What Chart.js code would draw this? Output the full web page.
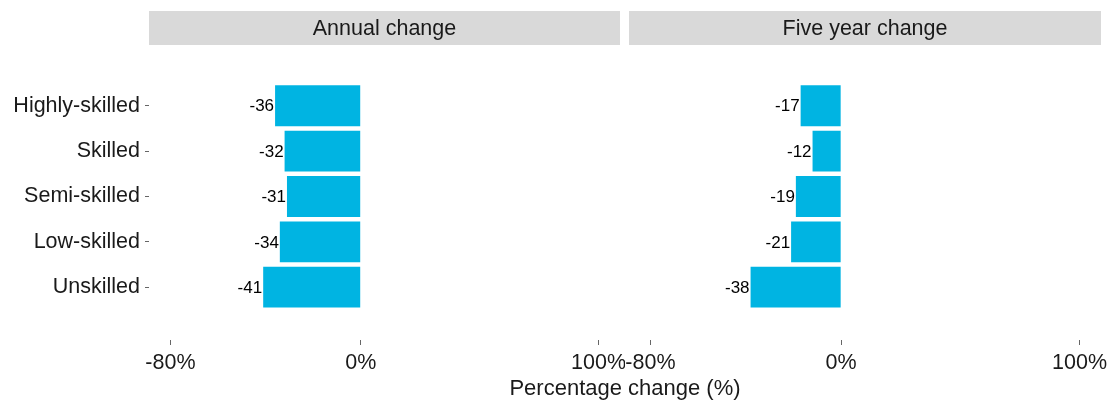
<!DOCTYPE html>
<html><head><meta charset="utf-8">
<script src="https://cdn.jsdelivr.net/npm/chart.js@4.4.0/dist/chart.umd.min.js"></script>
<style>
html,body{margin:0;padding:0;background:#fff;overflow:hidden;}
#wrap{position:relative;width:1115px;height:403px;}
canvas{position:absolute;top:0;}
#xtitle{position:absolute;left:0;top:376px;width:1250px;text-align:center;font:22px "Liberation Sans",Arial,sans-serif;line-height:24px;color:#1a1a1a;}
</style></head>
<body>
<div id="wrap">
<canvas id="c1" width="625" height="403" style="left:0"></canvas>
<canvas id="c2" width="490" height="403" style="left:625px"></canvas>
<div id="xtitle">Percentage change (%)</div>
</div>
<script>
const categories = ['Highly-skilled','Skilled','Semi-skilled','Low-skilled','Unskilled'];
const annualChange = [-36,-32,-31,-34,-41];
const fiveYearChange = [-17,-12,-19,-21,-38];
const panelTitles = ['Annual change','Five year change'];
const xTickValues = [-80,0,100];
const xTickLabels = ['-80%','0%','100%'];

const FONT = '"Liberation Sans", Arial, sans-serif';
const BAR_COLOR = '#00B4E2';

const stripPlugin = {
  id:'strip',
  beforeDraw(chart, args, opts){
    const {ctx, chartArea} = chart;
    ctx.save();
    ctx.fillStyle = '#d9d9d9';
    ctx.fillRect(chartArea.left, 11, chartArea.right - chartArea.left, 34);
    ctx.fillStyle = '#1a1a1a';
    ctx.font = '21.5px ' + FONT;
    ctx.textAlign = 'center';
    ctx.textBaseline = 'middle';
    ctx.fillText(opts.title, (chartArea.left + chartArea.right)/2, 29);
    ctx.restore();
  }
};

const labelPlugin = {
  id:'barLabels',
  afterDatasetsDraw(chart){
    const ctx = chart.ctx;
    const meta = chart.getDatasetMeta(0);
    const vals = chart.data.datasets[0].data;
    ctx.save();
    ctx.font = '17px ' + FONT;
    ctx.fillStyle = '#000';
    ctx.textAlign = 'right';
    ctx.textBaseline = 'middle';
    meta.data.forEach((el, i) => {
      ctx.fillText(String(vals[i].x), el.x - 1, el.y + 1);
    });
    ctx.restore();
  }
};

function makeChart(id, values, title, showY, padLeft, padRight){
  const data = categories.map((c, i) => ({x: values[i], y: i + 1}));
  return new Chart(document.getElementById(id), {
    type:'bar',
    data:{datasets:[{data, backgroundColor:BAR_COLOR, borderWidth:0, barPercentage:0.9, categoryPercentage:1.0}]},
    options:{
      responsive:false, animation:false, indexAxis:'y',
      layout:{padding:{top:50, bottom:0, left:padLeft, right:padRight}},
      plugins:{legend:{display:false}, tooltip:{enabled:false}, strip:{title}},
      scales:{
        x:{type:'linear', min:-89, max:109, offset:false,
          afterBuildTicks(s){ s.ticks = xTickValues.map(v => ({value:v})); },
          afterFit(s){ s.height = 63; s.paddingLeft = 0; s.paddingRight = 0; },
          border:{display:false},
          grid:{drawOnChartArea:false, drawTicks:true, tickLength:5, color:'#666', offset:false},
          ticks:{autoSkip:false, maxRotation:0, padding:5, color:'#1a1a1a', font:{family:FONT, size:21.5},
            callback(v){ const i = xTickValues.indexOf(v); return i >= 0 ? xTickLabels[i] : ''; }}
        },
        y:{type:'linear', reverse:true, min:-0.23, max:6.165, display:showY, offset:false,
          afterBuildTicks(s){ s.ticks = categories.map((c, i) => ({value:i + 1})); },
          afterFit(s){ if (showY) { s.width = 149; } s.paddingTop = 0; s.paddingBottom = 0; },
          border:{display:false},
          grid:{drawOnChartArea:false, drawTicks:true, tickLength:4, color:'#666', offset:false},
          ticks:{autoSkip:false, padding:5, color:'#1a1a1a', font:{family:FONT, size:21.5},
            callback(v){ return categories[v - 1] || ''; }}
        }
      }
    },
    plugins:[stripPlugin, labelPlugin]
  });
}

makeChart('c1', annualChange, panelTitles[0], true, 0, 5);
makeChart('c2', fiveYearChange, panelTitles[1], false, 4, 14);
</script>
</body></html>
